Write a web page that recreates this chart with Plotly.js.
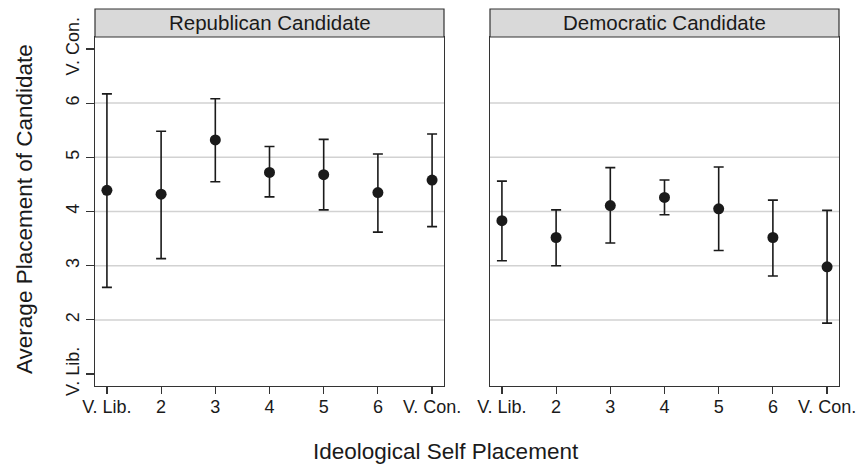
<!DOCTYPE html>
<html>
<head>
<meta charset="utf-8">
<script src="https://cdn.plot.ly/plotly-3.0.1.min.js"></script>
<style>html,body{margin:0;padding:0;background:#fff;}#chart{width:860px;height:464px;}</style>
</head>
<body>
<div id="chart"></div>
<script>
const xPos = [1, 2, 3, 4, 5, 6, 7];
const xLabels = ['V. Lib.', '2', '3', '4', '5', '6', 'V. Con.'];
const yTickVals = [1, 2, 3, 4, 5, 6, 7];
const yTickText = ['V. Lib.', '2', '3', '4', '5', '6', 'V. Con.'];
const gridVals = [2, 3, 4, 5, 6];

const panelTitles = ['Republican Candidate', 'Democratic Candidate'];

const repMean  = [4.39, 4.32, 5.32, 4.72, 4.68, 4.35, 4.58];
const repLower = [2.60, 3.13, 4.55, 4.27, 4.03, 3.62, 3.72];
const repUpper = [6.17, 5.48, 6.08, 5.20, 5.33, 5.06, 5.43];

const demMean  = [3.83, 3.52, 4.11, 4.26, 4.05, 3.52, 2.98];
const demLower = [3.09, 3.00, 3.42, 3.94, 3.28, 2.81, 1.94];
const demUpper = [4.56, 4.03, 4.81, 4.58, 4.82, 4.21, 4.02];

const ink = '#1a1a1a';
const font = 'Liberation Sans, Arial, Helvetica, sans-serif';

function trace(mean, lower, upper, xa, ya) {
  return {
    type: 'scatter', mode: 'markers', x: xPos, y: mean, xaxis: xa, yaxis: ya,
    marker: {size: 11, color: ink},
    error_y: {
      type: 'data', symmetric: false,
      array: upper.map((u, i) => u - mean[i]),
      arrayminus: lower.map((l, i) => mean[i] - l),
      color: ink, thickness: 1.6, width: 5
    },
    showlegend: false, hoverinfo: 'skip'
  };
}

const data = [
  trace(repMean, repLower, repUpper, 'x', 'y'),
  trace(demMean, demLower, demUpper, 'x2', 'y2')
];

const yRange = [0.78, 7.22];
const xRange = [0.78, 7.22];
const yDom = [1 - 386 / 464, 1 - 37 / 464];
const hdrTop = 1 - 9 / 464;

const axisCommon = {
  showline: true, mirror: true, linecolor: '#333', linewidth: 1.2,
  showgrid: false, zeroline: false, ticks: 'outside', tickcolor: '#333', tickwidth: 1.2,
  tickfont: {family: font, size: 18, color: ink}, fixedrange: true
};

const xaxisBase = Object.assign({}, axisCommon, {
  range: xRange, tickmode: 'array', tickvals: xPos, ticktext: xLabels, ticklen: 7,
  ticklabelstandoff: -3
});

const layout = {
  width: 860, height: 464,
  margin: {l: 0, r: 0, t: 0, b: 0},
  paper_bgcolor: '#fff', plot_bgcolor: '#fff',
  font: {family: font, color: ink},
  xaxis: Object.assign({}, xaxisBase, {domain: [95 / 860, 444 / 860], anchor: 'y'}),
  xaxis2: Object.assign({}, xaxisBase, {domain: [490 / 860, 839 / 860], anchor: 'y2'}),
  yaxis: Object.assign({}, axisCommon, {
    domain: yDom, range: yRange, anchor: 'x', tickmode: 'array',
    tickvals: yTickVals, ticktext: yTickText, tickangle: -90, ticklen: 8
  }),
  yaxis2: Object.assign({}, axisCommon, {
    domain: yDom, range: yRange, anchor: 'x2', showticklabels: false, ticks: ''
  }),
  shapes: [],
  annotations: []
};

[['x', 'y'], ['x2', 'y2']].forEach(([xa, ya], p) => {
  gridVals.forEach(v => {
    layout.shapes.push({
      type: 'line', xref: xa + ' domain', yref: ya, x0: 0, x1: 1, y0: v, y1: v,
      line: {color: '#d2d2d2', width: 1.5}, layer: 'below'
    });
  });
  layout.shapes.push({
    type: 'rect', xref: xa + ' domain', yref: 'paper', x0: 0, x1: 1, y0: yDom[1], y1: hdrTop,
    fillcolor: '#d9d9d9', line: {color: '#333', width: 1.2}
  });
  layout.annotations.push({
    xref: xa + ' domain', yref: 'paper', x: 0.5, y: (yDom[1] + hdrTop) / 2,
    text: panelTitles[p], showarrow: false, xanchor: 'center', yanchor: 'middle',
    font: {family: font, size: 20.5, color: ink}
  });
});

layout.annotations.push({
  xref: 'paper', yref: 'paper', x: 446 / 860, y: 1 - 451 / 464,
  text: 'Ideological Self Placement', showarrow: false, xanchor: 'center', yanchor: 'middle',
  font: {family: font, size: 22.5, color: ink}
});
layout.annotations.push({
  xref: 'paper', yref: 'paper', x: 24 / 860, y: 1 - 209 / 464,
  text: 'Average Placement of Candidate', showarrow: false, textangle: -90,
  xanchor: 'center', yanchor: 'middle',
  font: {family: font, size: 22.5, color: ink}
});

Plotly.newPlot('chart', data, layout, {displayModeBar: false, staticPlot: true});
</script>
</body>
</html>
